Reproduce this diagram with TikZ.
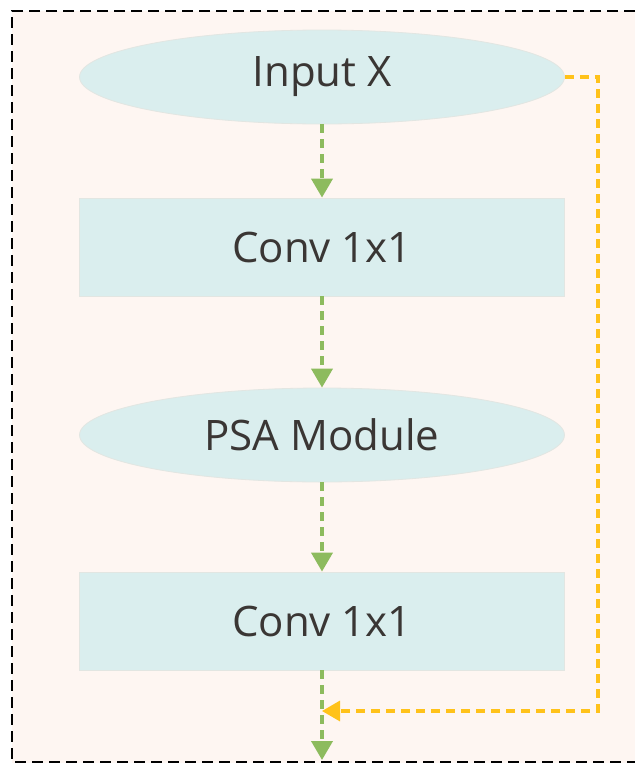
\documentclass[tikz,border=0pt]{standalone}
\usepackage{fontspec}
\setmainfont{Open Sans}
\usetikzlibrary{arrows.meta,shapes.geometric}
\definecolor{peach}{HTML}{FEF6F2}
\definecolor{paleteal}{HTML}{DAEEEE}
\definecolor{tealedge}{HTML}{E2E6E2}
\definecolor{leaf}{HTML}{8DBB5E}
\definecolor{amber}{HTML}{FFC21A}
\definecolor{ink}{HTML}{3A3634}
\begin{document}
\begin{tikzpicture}[x=1pt,y=-1pt,
  oval/.style={ellipse,fill=paleteal,draw=tealedge,line width=0.8pt,minimum width=485pt,minimum height=94pt,inner sep=0pt,text=ink,font=\fontsize{42}{48}\selectfont},
  box/.style={rectangle,fill=paleteal,draw=tealedge,line width=0.8pt,minimum width=485pt,minimum height=98pt,inner sep=0pt,text=ink,font=\fontsize{42}{48}\selectfont},
  flow/.style={draw=leaf,line width=3.8pt,dash pattern=on 9pt off 6pt,-{Triangle[length=19pt,width=21pt]}},
  skip/.style={draw=amber,line width=3.2pt,dash pattern=on 9pt off 6pt,-{Triangle[length=18pt,width=20pt]}}]
\useasboundingbox (0,0) rectangle (635,763);
\fill[white] (0,0) rectangle (635,763);
\fill[peach] (12,11) rectangle (635,763);
\draw[line width=2.8pt,dash pattern=on 11pt off 6pt] (635,11) -- (12,11) -- (12,762) -- (635,762);
% boxes
\node[oval] (inp) at (322,77) {Input X};
\node[box] (conv1) at (322,247) {Conv 1x1};
\node[oval] (psa) at (322,435) {PSA Module};
\node[box] (conv2) at (322,621) {Conv 1x1};
\coordinate (join) at (322,711);
\coordinate (out) at (322,760);
% arrows
\draw[flow] (inp) -- (conv1);
\draw[flow] (conv1) -- (psa);
\draw[flow] (psa) -- (conv2);
\draw[flow] (conv2) -- (out);
\draw[skip] (inp.east) -- ++(33,0) |- (join);
\end{tikzpicture}
\end{document}
